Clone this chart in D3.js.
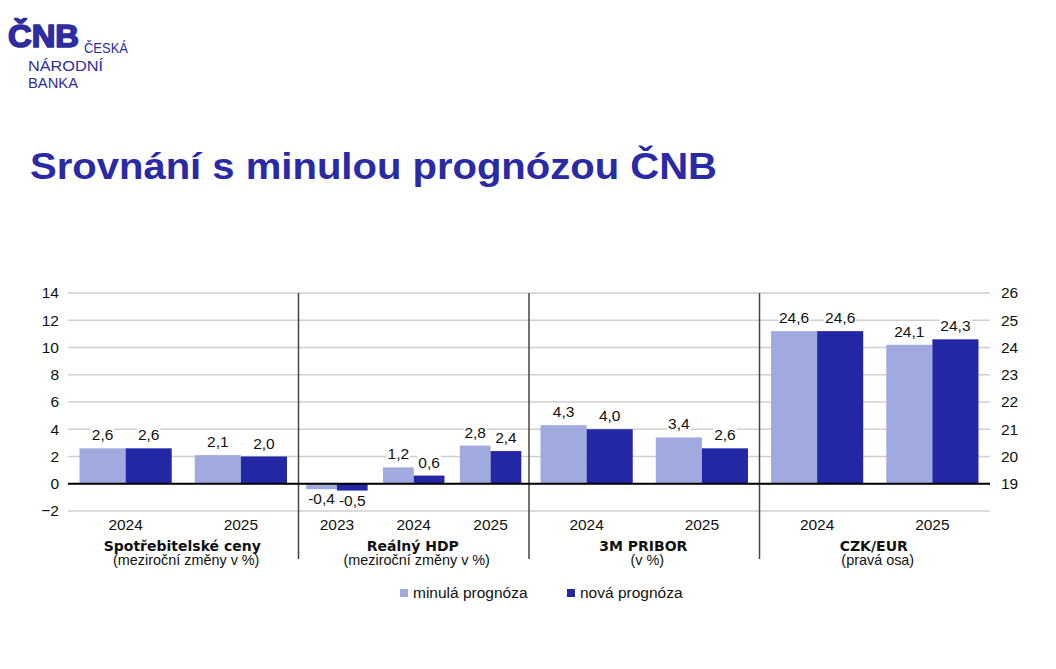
<!DOCTYPE html>
<html>
<head>
<meta charset="utf-8">
<script src="https://cdn.jsdelivr.net/npm/d3@7"></script>
<style>
  html, body { margin: 0; padding: 0; background: #fff; }
  svg { display: block; }
</style>
</head>
<body>
<svg id="chart" width="1056" height="669" font-family="'Liberation Sans', Arial, sans-serif"></svg>
<script>
// ---- data ----
const panelTitles = ["Spotřebitelské ceny", "Reálný HDP", "3M PRIBOR", "CZK/EUR"];
const panelSubtitles = ["(meziroční změny v %)", "(meziroční změny v %)", "(v %)", "(pravá osa)"];
const panelYears = [["2024", "2025"], ["2023", "2024", "2025"], ["2024", "2025"], ["2024", "2025"]];
const prevForecast = [[2.6, 2.1], [-0.4, 1.2, 2.8], [4.3, 3.4], [24.6, 24.1]];
const newForecast = [[2.6, 2.0], [-0.5, 0.6, 2.4], [4.0, 2.6], [24.6, 24.3]];
const panelUsesRightAxis = [false, false, false, true];
const leftTicks = [-2, 0, 2, 4, 6, 8, 10, 12, 14];
const rightTicks = [19, 20, 21, 22, 23, 24, 25, 26];
const seriesNames = ["minulá prognóza", "nová prognóza"];
const titleText = "Srovnání s minulou prognózou ČNB";

// ---- style ----
const colPrev = "#a0aadf";
const colNew = "#2326a5";
const colTitle = "#2a2aa6";
const fontMain = "'Liberation Sans', Arial, sans-serif";
const fontBold = "'DejaVu Sans', Verdana, sans-serif";

const svg = d3.select("#chart");
const plotL = 68, plotR = 990, plotT = 293, plotB = 511;

const yL = d3.scaleLinear().domain([-2, 14]).range([plotB, plotT]);
const yR = d3.scaleLinear().domain([18, 26]).range([plotB, plotT]);

const xPanel = d3.scaleBand().domain(d3.range(panelTitles.length)).range([plotL, plotR]).padding(0);

// ---- logo ----
const logo = svg.append("g").attr("fill", "#2d2d9f");
logo.append("text").attr("x", 8).attr("y", 47)
  .attr("font-size", 31).attr("font-weight", "bold")
  .attr("stroke", "#2d2d9f").attr("stroke-width", 1.6).attr("stroke-linejoin", "round")
  .attr("textLength", 71).attr("lengthAdjust", "spacingAndGlyphs")
  .text("ČNB");
logo.append("text").attr("x", 84).attr("y", 53).attr("font-size", 15)
  .attr("textLength", 44).attr("lengthAdjust", "spacingAndGlyphs").text("ČESKÁ");
logo.append("text").attr("x", 28).attr("y", 71).attr("font-size", 15)
  .attr("textLength", 75).attr("lengthAdjust", "spacingAndGlyphs").text("NÁRODNÍ");
logo.append("text").attr("x", 28).attr("y", 88).attr("font-size", 15)
  .attr("textLength", 50).attr("lengthAdjust", "spacingAndGlyphs").text("BANKA");

// ---- title ----
svg.append("text").attr("x", 30).attr("y", 179)
  .attr("font-size", 37).attr("font-weight", "bold").attr("fill", colTitle)
  .attr("textLength", 687).attr("lengthAdjust", "spacingAndGlyphs")
  .text(titleText);

// ---- gridlines ----
svg.append("g").selectAll("line").data(leftTicks).join("line")
  .attr("x1", plotL).attr("x2", plotR)
  .attr("y1", d => yL(d)).attr("y2", d => yL(d))
  .attr("stroke", "#cfcfcf").attr("stroke-width", 1.6);

// ---- left axis ----
const axL = d3.axisLeft(yL).tickValues(leftTicks).tickSize(0).tickPadding(0)
  .tickFormat(d => d < 0 ? "\u2212" + Math.abs(d) : d);
const gL = svg.append("g").attr("transform", `translate(59,0)`).call(axL);
gL.select(".domain").remove();
gL.attr("font-family", null).attr("font-size", null);
gL.selectAll("text").attr("font-size", 15.5).attr("fill", "#111").style("font-family", fontMain);

// ---- right axis ----
const axR = d3.axisRight(yR).tickValues(rightTicks).tickSize(0).tickPadding(0);
const gR = svg.append("g").attr("transform", `translate(1001,0)`).call(axR);
gR.select(".domain").remove();
gR.selectAll("text").attr("font-size", 15.5).attr("fill", "#111").style("font-family", fontMain);

// ---- panels ----
panelTitles.forEach((title, p) => {
  const x0 = xPanel(p), w = xPanel.bandwidth();
  const y = panelUsesRightAxis[p] ? yR : yL;
  const base = panelUsesRightAxis[p] ? 19 : 0;
  const xCat = d3.scaleBand().domain(panelYears[p]).range([x0, x0 + w])
    .paddingInner(0.2).paddingOuter(0.1);
  const xSub = d3.scaleBand().domain([0, 1]).range([0, xCat.bandwidth()]).padding(0);
  const rows = panelYears[p].map((yr, i) => ({ yr, vals: [prevForecast[p][i], newForecast[p][i]] }));
  const g = svg.append("g");

  rows.forEach(r => {
    r.vals.forEach((v, s) => {
      const bx = xCat(r.yr) + xSub(s);
      const y0 = y(base), y1 = y(v);
      g.append("rect").attr("x", bx).attr("width", xSub.bandwidth())
        .attr("y", Math.min(y0, y1)).attr("height", Math.abs(y1 - y0))
        .attr("fill", s === 0 ? colPrev : colNew);
      const label = v.toFixed(1).replace(".", ",");
      const cx = bx + xSub.bandwidth() / 2;
      const ly = v >= base ? y1 - 8 : y1 + 15;
      const t = g.append("text").attr("x", cx).attr("y", ly)
        .attr("text-anchor", "middle").attr("font-size", 15.5).attr("fill", "#111")
        .text(label);
      const bb = t.node().getBBox();
      g.insert("rect", () => t.node())
        .attr("x", bb.x - 1).attr("y", bb.y + 1).attr("width", bb.width + 2).attr("height", bb.height - 2)
        .attr("fill", "#fff");
    });
    g.append("text").attr("x", xCat(r.yr) + xCat.bandwidth() / 2).attr("y", 530)
      .attr("text-anchor", "middle").attr("font-size", 15.5).attr("fill", "#111").text(r.yr);
  });

  g.append("text").attr("x", x0 + w / 2 - 1).attr("y", 551)
    .attr("text-anchor", "middle").attr("font-size", 14).attr("font-weight", "bold")
    .style("font-family", fontBold).attr("fill", "#111")
    .text(title);
  g.append("text").attr("x", x0 + w / 2 + 3).attr("y", 565)
    .attr("text-anchor", "middle").attr("font-size", 14.4).attr("fill", "#111")
    .text(panelSubtitles[p]);

  if (p > 0) {
    svg.append("line").attr("x1", x0).attr("x2", x0).attr("y1", plotT).attr("y2", 559)
      .attr("stroke", "#444").attr("stroke-width", 1.5);
  }
});

// ---- zero line ----
svg.append("line").attr("x1", plotL).attr("x2", plotR)
  .attr("y1", yL(0)).attr("y2", yL(0)).attr("stroke", "#000").attr("stroke-width", 2);

// ---- legend ----
const legX = [400, 567];
seriesNames.forEach((n, i) => {
  svg.append("rect").attr("x", legX[i]).attr("y", 589).attr("width", 8).attr("height", 8)
    .attr("fill", i === 0 ? colPrev : colNew);
  svg.append("text").attr("x", legX[i] + 13).attr("y", 598).attr("font-size", 15.5)
    .attr("fill", "#111").text(n);
});
</script>
</body>
</html>
